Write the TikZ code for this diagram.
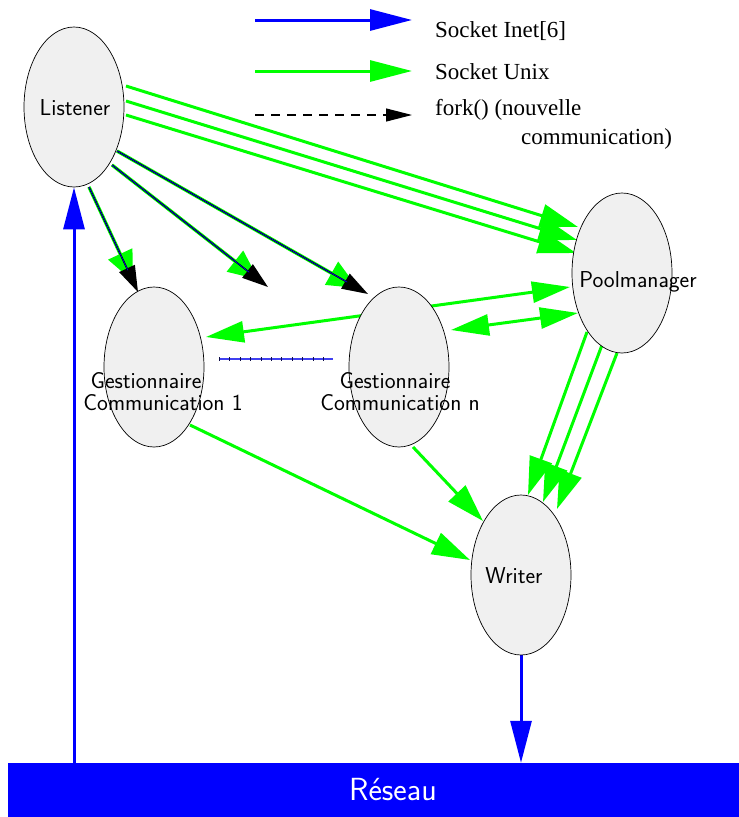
\documentclass[tikz,border=0pt]{standalone}
\usepackage{fontspec}
\newfontfamily\legendfont{Liberation Serif}
\usetikzlibrary{arrows.meta,shapes.geometric,calc,backgrounds}
\definecolor{netblue}{HTML}{0000FF}
\definecolor{unixgreen}{HTML}{00FF00}
\definecolor{nodefill}{HTML}{F0F0F0}
\definecolor{tieblue}{HTML}{4040F0}
\definecolor{tiedot}{HTML}{10104A}
\begin{document}
\begin{tikzpicture}[x=1pt,y=-1pt,
  proc/.style={ellipse, draw=black, line width=0.7pt, fill=nodefill,
    minimum width=100pt, minimum height=160pt, inner sep=0pt},
  lbl/.style={inner sep=0pt, anchor=base, font=\sffamily\fontsize{23}{27}\selectfont},
  legtext/.style={inner sep=0pt, anchor=base west, font=\legendfont\fontsize{23}{27}\selectfont},
  inet/.style={netblue, line width=3pt, -{Triangle[length=42pt,width=21pt]}},
  unix/.style={unixgreen, line width=3pt, -{Triangle[length=38pt,width=23pt]}},
  unixboth/.style={unixgreen, line width=3pt,
    {Triangle[length=38pt,width=21pt]}-{Triangle[length=38pt,width=21pt]}},
  forklegend/.style={black, line width=1.1pt, dash pattern=on 9pt off 7pt,
    -{Triangle[length=26pt,width=13pt]}},
  forkgreen/.style={unixgreen, line width=3.4pt, shorten >=12pt,
    -{Triangle[length=30pt,width=26pt]}},
  forkblack/.style={black, line width=1.6pt, -{Triangle[length=26pt,width=17pt]}},
  forkcore/.style={netblue, line width=0.6pt, shorten >=24pt},
]
\useasboundingbox (0,0) rectangle (739,817);

% processes
\node[proc] (L)  at (74,107)  {};
\node[proc] (P)  at (622,273) {};
\node[proc] (G1) at (154,367) {};
\node[proc] (Gn) at (399,367) {};
\node[proc] (W)  at (521,575) {};

\node[lbl] (Ltext)  at (75,115)  {Listener};
\node[lbl] (Ptext)  at (638,287) {Poolmanager};
\node[lbl] (G1a)    at (146,388) {Gestionnaire};
\node[lbl] (G1b)    at (163,410) {Communication 1};
\node[lbl] (Gna)    at (395,388) {Gestionnaire};
\node[lbl] (Gnb)    at (400,410) {Communication n};
\node[lbl] (Wtext)  at (514,583) {Writer};

% network bar
\node[fill=netblue, minimum width=731pt, minimum height=54pt, inner sep=0pt] (R) at (373.5,790) {};
\node[inner sep=0pt, anchor=base, text=white, font=\sffamily\fontsize{32}{38}\selectfont] (Rtext) at (393,800) {Réseau};

% legend
\coordinate (k1s) at (255,20);  \coordinate (k1e) at (412,20);
\coordinate (k2s) at (255,71);  \coordinate (k2e) at (412,71);
\coordinate (k3s) at (255,115); \coordinate (k3e) at (412,115);
\draw[inet] (k1s) -- (k1e);
\draw[unix, -{Triangle[length=42pt,width=21pt]}] (k2s) -- (k2e);
\draw[forklegend] (k3s) -- (k3e);
\node[legtext] (t1) at (435,37)  {Socket Inet[6]};
\node[legtext] (t2) at (435,79)  {Socket Unix};
\node[legtext] (t3) at (435,115) {fork() (nouvelle};
\node[legtext] (t4) at (521,144) {communication)};

\begin{scope}[on background layer]
  % Listener -> Poolmanager
  \draw[unix] ($(L.center)+(52,-21)$) -- ($(P.center)+(-44,-46)$);
  \draw[unix] ($(L.center)+(52,-6)$)  -- ($(P.center)+(-45,-33)$);
  \draw[unix] ($(L.center)+(52,8)$)   -- ($(P.center)+(-46,-20)$);

  % forked handlers
  \coordinate (f1s) at ($(L.center)+(15,80)$);  \coordinate (f1e) at ($(G1.center)+(-16,-75)$);
  \coordinate (f2s) at ($(L.center)+(38,58)$);  \coordinate (f2e) at (268,287);
  \coordinate (f3s) at ($(L.center)+(43,44)$);  \coordinate (f3e) at ($(Gn.center)+(-31,-73)$);
  \foreach \i in {1,2,3} {
    \draw[forkgreen] (f\i s) -- (f\i e);
    \draw[forkblack] (f\i s) -- (f\i e);
    \draw[forkcore]  (f\i s) -- (f\i e);
  }

  % Poolmanager <-> handlers
  \draw[unixboth] ($(G1.center)+(52,-30)$) -- ($(P.center)+(-52,14)$);
  \draw[unixboth] ($(Gn.center)+(52,-37)$) -- ($(P.center)+(-44,40)$);

  % Poolmanager -> Writer
  \draw[unix] ($(P.center)+(-35,59)$) -- ($(W.center)+(7,-80)$);
  \draw[unix] ($(P.center)+(-20,72)$) -- ($(W.center)+(22,-73)$);
  \draw[unix] ($(P.center)+(-5,80)$)  -- ($(W.center)+(36,-66)$);

  % handlers -> Writer
  \draw[unix] ($(G1.center)+(36,58)$) -- ($(W.center)+(-51,-15)$);
  \draw[unix] ($(Gn.center)+(14,80)$) -- ($(W.center)+(-38,-54)$);

  % link between handlers
  \draw[tieblue, line width=1.3pt] ($(G1.center)+(65,-8)$) -- ($(Gn.center)+(-66,-8)$);
  \draw[tiedot, line width=3.5pt, dash pattern=on 1pt off 9.4pt] ($(G1.center)+(65,-8)$) -- ($(Gn.center)+(-66,-8)$);

  % network links
  \draw[inet] (R.north -| L.center) -- (L.south);
  \draw[inet] (W.south) -- (W.south |- R.north);
\end{scope}
\end{tikzpicture}
\end{document}
